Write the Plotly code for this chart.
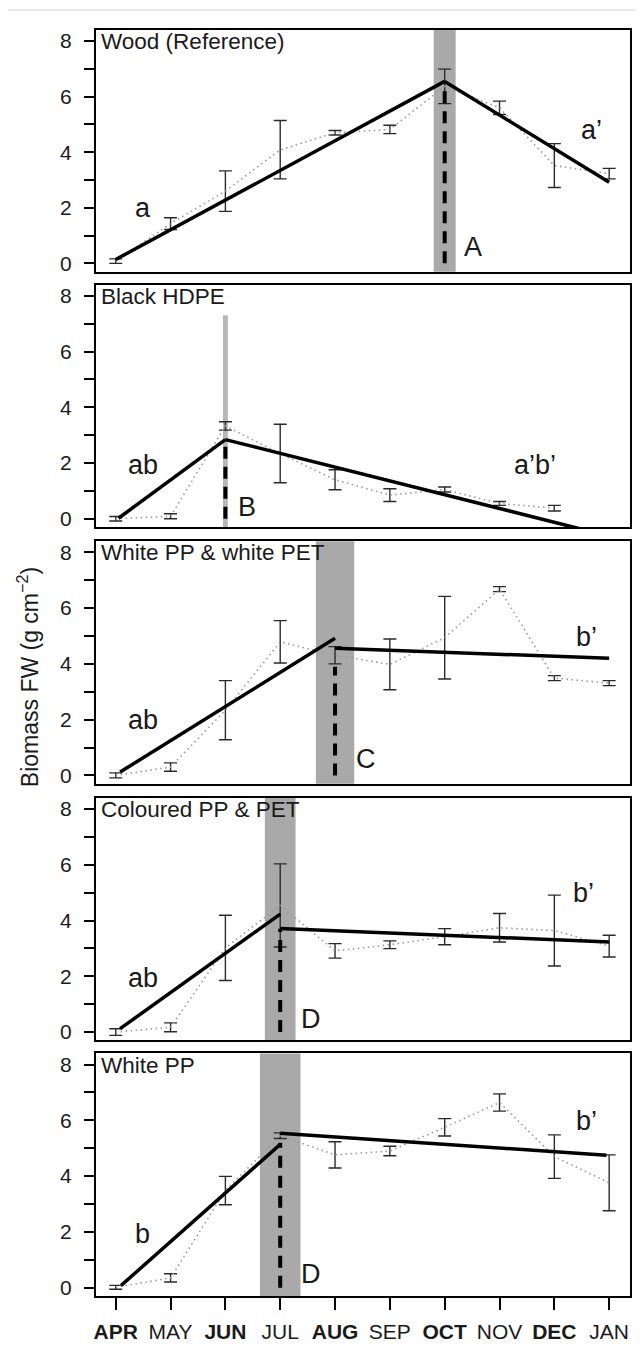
import plotly.graph_objects as go
from plotly.subplots import make_subplots

months = ["APR", "MAY", "JUN", "JUL", "AUG", "SEP", "OCT", "NOV", "DEC", "JAN"]
month_labels = ["<b>APR</b>", "MAY", "<b>JUN</b>", "JUL", "<b>AUG</b>", "SEP",
                "<b>OCT</b>", "NOV", "<b>DEC</b>", "JAN"]
month_pos = [1, 2, 3, 4, 5, 6, 7, 8, 9, 10]

panel_titles = ["Wood (Reference)", "Black HDPE", "White PP & white PET",
                "Coloured PP & PET", "White PP"]

wood_mean = [0.08, 1.43, 2.60, 4.09, 4.70, 4.82, 6.37, 5.60, 3.52, 3.23]
wood_err = [0.08, 0.21, 0.73, 1.05, 0.08, 0.15, 0.62, 0.24, 0.79, 0.19]

hdpe_mean = [0.00, 0.09, 3.33, 2.34, 1.40, 0.85, 1.05, 0.55, 0.38, None]
hdpe_err = [0.08, 0.09, 0.15, 1.05, 0.36, 0.23, 0.09, 0.07, 0.10, None]

wpet_mean = [0.00, 0.30, 2.34, 4.79, 4.31, 3.98, 4.94, 6.68, 3.49, 3.31]
wpet_err = [0.09, 0.15, 1.06, 0.76, 0.31, 0.91, 1.48, 0.09, 0.09, 0.09]

cpet_mean = [0.00, 0.17, 3.02, 4.54, 2.91, 3.13, 3.42, 3.74, 3.64, 3.08]
cpet_err = [0.12, 0.16, 1.17, 1.49, 0.26, 0.14, 0.29, 0.51, 1.27, 0.39]

wpp_mean = [0.01, 0.35, 3.48, 5.45, 4.76, 4.90, 5.75, 6.64, 4.70, 3.76]
wpp_err = [0.07, 0.15, 0.51, 0.10, 0.47, 0.17, 0.31, 0.31, 0.78, 1.00]

means = [wood_mean, hdpe_mean, wpet_mean, cpet_mean, wpp_mean]
errs = [wood_err, hdpe_err, wpet_err, cpet_err, wpp_err]

# piecewise regression segments: (x0, y0, x1, y1)
wood_fit = [(1.0, 0.14, 7.0, 6.55), (7.0, 6.55, 10.0, 2.92)]
hdpe_fit = [(1.05, 0.02, 3.0, 2.84), (3.0, 2.84, 10.0, -0.62)]
wpet_fit = [(1.08, 0.12, 5.0, 4.92), (5.0, 4.56, 10.0, 4.20)]
cpet_fit = [(1.08, 0.12, 4.0, 4.23), (4.0, 3.71, 10.0, 3.23)]
wpp_fit = [(1.1, 0.08, 4.0, 5.14), (4.0, 5.54, 9.95, 4.75)]
fits = [wood_fit, hdpe_fit, wpet_fit, cpet_fit, wpp_fit]

# breakpoint (x), half-width of grey band, band top (None = full), dashed-line top
break_x = [7.0, 3.0, 5.0, 4.0, 4.0]
band_half = [0.2, 0.045, 0.35, 0.28, 0.37]
band_top = [None, 7.3, None, None, None]
band_color = ["#a9a9a9", "#b8b8b8", "#a9a9a9", "#a9a9a9", "#a9a9a9"]
dash_top = [6.3, 2.7, 3.9, 3.7, 5.2]

# letters: (text, x, y)
letters = [
    [("a", 1.5, 2.0), ("a\u2019", 9.68, 4.8), ("A", 7.52, 0.6)],
    [("ab", 1.49, 1.92), ("a\u2019b\u2019", 8.64, 1.92), ("B", 3.4, 0.42)],
    [("ab", 1.49, 1.97), ("b\u2019", 9.58, 4.95), ("C", 5.57, 0.6)],
    [("ab", 1.49, 1.95), ("b\u2019", 9.54, 5.0), ("D", 4.56, 0.45)],
    [("b", 1.49, 1.93), ("b\u2019", 9.58, 5.98), ("D", 4.56, 0.5)],
]

y_major = [0, 2, 4, 6, 8]
y_labels = ["0", "2", "4", "6", "8"]
y_minor = [1, 3, 5, 7]
y_range = [-0.3, 8.4]
x_range = [0.64, 10.38]

FONT = "Liberation Sans, Arial, sans-serif"
INK = "#1a1a1a"

fig = make_subplots(rows=5, cols=1, shared_xaxes=False)

domains = [[0.8091, 1.0], [0.6073, 0.7989], [0.4046, 0.5962],
           [0.2019, 0.3935], [0.0, 0.1916]]

for i in range(5):
    r = i + 1
    xs = "x" if i == 0 else f"x{r}"
    ys = "y" if i == 0 else f"y{r}"
    # grey band
    if band_top[i] is None:
        fig.add_shape(type="rect", xref=xs, yref=f"{ys} domain",
                      x0=break_x[i] - band_half[i], x1=break_x[i] + band_half[i],
                      y0=0, y1=1, fillcolor=band_color[i], line_width=0, layer="below")
    else:
        fig.add_shape(type="rect", xref=xs, yref=ys,
                      x0=break_x[i] - band_half[i], x1=break_x[i] + band_half[i],
                      y0=y_range[0], y1=band_top[i], fillcolor=band_color[i],
                      line_width=0, layer="below")
    # dotted mean line with error bars
    fig.add_trace(go.Scatter(
        x=month_pos, y=means[i], mode="lines",
        line=dict(color="#9a9a9a", width=1.6, dash="1.5px,3.5px"),
        error_y=dict(type="data", array=errs[i], symmetric=True,
                     color="#2a2a2a", thickness=1.4, width=6.5),
        showlegend=False, hoverinfo="skip", connectgaps=False), row=r, col=1)
    # regression segments
    for (x0, yy0, x1, yy1) in fits[i]:
        fig.add_trace(go.Scatter(
            x=[x0, x1], y=[yy0, yy1], mode="lines",
            line=dict(color="black", width=3.5),
            showlegend=False, hoverinfo="skip"), row=r, col=1)
    # dashed breakpoint line
    fig.add_trace(go.Scatter(
        x=[break_x[i], break_x[i]], y=[0, dash_top[i]], mode="lines",
        line=dict(color="black", width=4, dash="12px,8px"),
        showlegend=False, hoverinfo="skip"), row=r, col=1)
    # panel title
    fig.add_annotation(text=panel_titles[i], xref=f"{xs} domain", yref=f"{ys} domain",
                       x=0.005, y=1.012, xanchor="left", yanchor="top", showarrow=False,
                       font=dict(family=FONT, size=22.5, color=INK))
    for (t, lx, ly) in letters[i]:
        fig.add_annotation(text=t, xref=xs, yref=ys, x=lx, y=ly, showarrow=False,
                           xanchor="center", yanchor="middle",
                           font=dict(family=FONT, size=27, color=INK))

axis_common = dict(showline=True, mirror=True, linecolor="black", linewidth=2,
                   showgrid=False, zeroline=False)

for i in range(5):
    r = i + 1
    fig.update_yaxes(domain=domains[i], range=y_range, tickmode="array",
                     tickvals=y_major, ticktext=y_labels, ticks="outside",
                     ticklen=10, tickwidth=1.5, tickcolor="black",
                     ticklabelstandoff=8,
                     minor=dict(tickvals=y_minor, ticks="outside", ticklen=10,
                                tickwidth=1.5, tickcolor="black", showgrid=False),
                     tickfont=dict(family=FONT, size=21, color=INK),
                     **axis_common, row=r, col=1)
    if r < 5:
        fig.update_xaxes(range=x_range, showticklabels=False, ticks="",
                         tickvals=month_pos, **axis_common, row=r, col=1)
    else:
        fig.update_xaxes(range=x_range, tickmode="array", tickvals=month_pos,
                         ticktext=month_labels, ticks="outside", ticklen=12,
                         tickwidth=1.5, tickcolor="black", ticklabelstandoff=4,
                         tickfont=dict(family=FONT, size=21, color=INK),
                         **axis_common, row=r, col=1)

fig.add_annotation(text="Biomass FW (g cm<sup>\u22122</sup>)", xref="paper", yref="paper",
                   x=-0.128, y=0.4885, textangle=-90, showarrow=False,
                   xanchor="center", yanchor="middle",
                   font=dict(family=FONT, size=23, color=INK))

fig.add_shape(type="line", xref="paper", yref="paper", x0=-0.2, x1=1.05,
              y0=1.0158, y1=1.0158, line=dict(color="#e8e8e8", width=2))

fig.update_layout(width=644, height=1347, margin=dict(l=88, r=22, t=22, b=57),
                  plot_bgcolor="white", paper_bgcolor="white",
                  font=dict(family=FONT, color=INK))

fig.write_html("out.html")
